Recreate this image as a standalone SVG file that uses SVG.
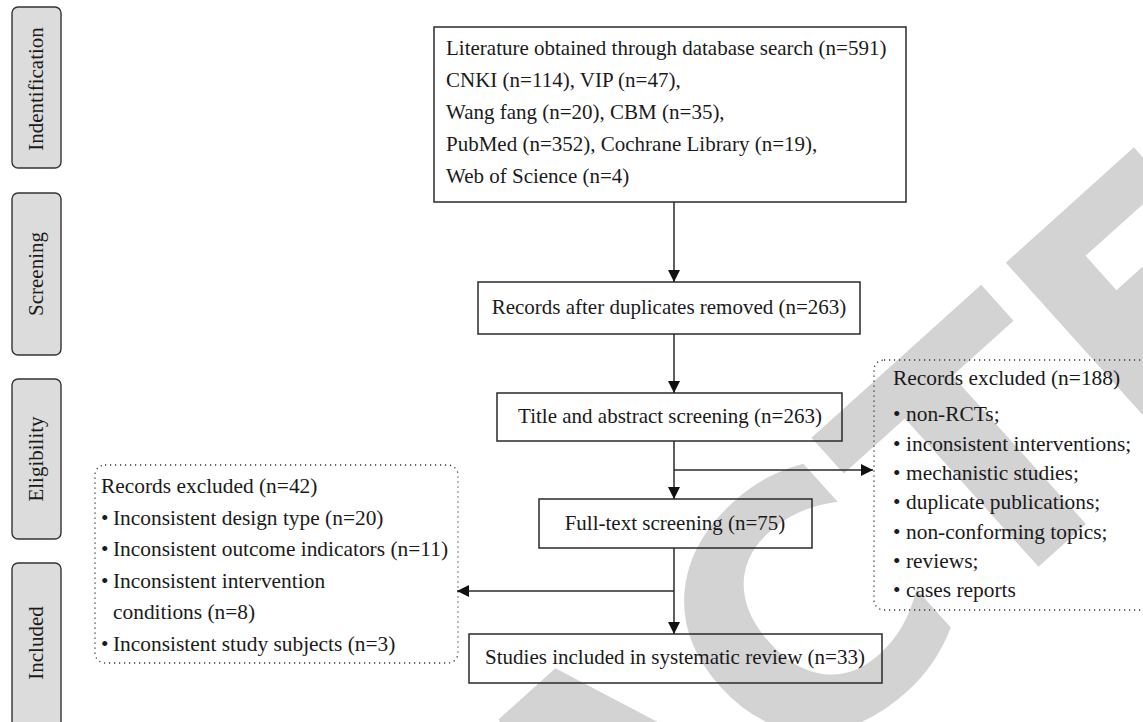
<svg xmlns="http://www.w3.org/2000/svg" width="1143" height="722" viewBox="0 0 1143 722">
  <style>
    .t { font-family: "Liberation Serif", "Times New Roman", serif; font-size: 21px; fill: #1a1a1a; }
    .l { font-size: 21.4px; }
    .stage rect { fill: #dcdcdc; stroke: #333; stroke-width: 1.4; }
    .box { fill: none; stroke: #2a2a2a; stroke-width: 1.5; }
    .dotbox { fill: none; stroke: #333; stroke-width: 1.3; stroke-dasharray: 1.2 3.8; }
    .conn { fill: none; stroke: #2a2a2a; stroke-width: 1.5; }
    .wm { font-family: "DejaVu Sans", sans-serif; font-weight: bold; font-size: 340px; fill: #d3d3d3; }
  </style>
  <defs>
    <marker id="arrow" markerUnits="userSpaceOnUse" markerWidth="12" markerHeight="12" refX="12" refY="6" orient="auto">
      <path d="M0,0 L12,6 L0,12 z" fill="#111"/>
    </marker>
  </defs>

  <rect width="1143" height="722" fill="#fff"/>

  <!-- diagonal watermark -->
  <text class="wm" transform="translate(-139,1627) rotate(-42)" x="0" y="0">RETRACTED</text>

  <!-- stage labels -->
  <g id="stage-identification" class="stage">
    <rect x="12" y="7" width="49" height="161" rx="6"/>
    <text class="t" transform="translate(43,89) rotate(-90)" text-anchor="middle">Indentification</text>
  </g>
  <g id="stage-screening" class="stage">
    <rect x="12" y="193" width="49" height="162" rx="6"/>
    <text class="t" transform="translate(43,274) rotate(-90)" text-anchor="middle">Screening</text>
  </g>
  <g id="stage-eligibility" class="stage">
    <rect x="12" y="379" width="49" height="160" rx="6"/>
    <text class="t" transform="translate(43,459) rotate(-90)" text-anchor="middle">Eligibility</text>
  </g>
  <g id="stage-included" class="stage">
    <rect x="12" y="563" width="49" height="175" rx="6"/>
    <text class="t" transform="translate(43,643) rotate(-90)" text-anchor="middle">Included</text>
  </g>

  <!-- flow boxes -->
  <g id="database-search">
    <rect class="box" x="434" y="27" width="472" height="175"/>
    <text class="t" x="446" y="55">Literature obtained through database search (n=591)</text>
    <text class="t" x="446" y="87">CNKI (n=114), VIP (n=47),</text>
    <text class="t" x="446" y="119">Wang fang (n=20), CBM (n=35),</text>
    <text class="t" x="446" y="151">PubMed (n=352), Cochrane Library (n=19),</text>
    <text class="t" x="446" y="183">Web of Science (n=4)</text>
  </g>
  <g id="duplicates-removed">
    <rect class="box" x="478" y="282" width="382" height="52"/>
    <text class="t" x="669" y="314" text-anchor="middle">Records after duplicates removed (n=263)</text>
  </g>
  <g id="title-abstract">
    <rect class="box" x="497" y="393" width="345" height="48"/>
    <text class="t" x="670" y="423" text-anchor="middle">Title and abstract screening (n=263)</text>
  </g>
  <g id="full-text">
    <rect class="box" x="539" y="499" width="273" height="49"/>
    <text class="t" x="675" y="530" text-anchor="middle">Full-text screening (n=75)</text>
  </g>
  <g id="included">
    <rect class="box" x="469" y="634" width="413" height="49"/>
    <text class="t" x="675" y="664" text-anchor="middle">Studies included in systematic review (n=33)</text>
  </g>

  <g id="excluded-188">
    <rect class="dotbox" x="874" y="360" width="280" height="250" rx="10"/>
    <text class="t l" x="893" y="385">Records excluded (n=188)</text>
    <text class="t l" y="421"><tspan x="893">•</tspan><tspan x="906">non-RCTs;</tspan></text>
    <text class="t l" y="450.5"><tspan x="893">•</tspan><tspan x="906">inconsistent interventions;</tspan></text>
    <text class="t l" y="480"><tspan x="893">•</tspan><tspan x="906">mechanistic studies;</tspan></text>
    <text class="t l" y="509"><tspan x="893">•</tspan><tspan x="906">duplicate publications;</tspan></text>
    <text class="t l" y="538.5"><tspan x="893">•</tspan><tspan x="906">non-conforming topics;</tspan></text>
    <text class="t l" y="567.5"><tspan x="893">•</tspan><tspan x="906">reviews;</tspan></text>
    <text class="t l" y="597"><tspan x="893">•</tspan><tspan x="906">cases reports</tspan></text>
  </g>

  <g id="excluded-42">
    <rect class="dotbox" x="95" y="465" width="363" height="198" rx="10"/>
    <text class="t l" x="101" y="493">Records excluded (n=42)</text>
    <text class="t l" y="525"><tspan x="101">•</tspan><tspan x="113">Inconsistent design type (n=20)</tspan></text>
    <text class="t l" y="556"><tspan x="101">•</tspan><tspan x="113">Inconsistent outcome indicators (n=11)</tspan></text>
    <text class="t l" y="588"><tspan x="101">•</tspan><tspan x="113">Inconsistent intervention</tspan></text>
    <text class="t l" x="113" y="619">conditions (n=8)</text>
    <text class="t l" y="651"><tspan x="101">•</tspan><tspan x="113">Inconsistent study subjects (n=3)</tspan></text>
  </g>

  <!-- connectors -->
  <g id="connectors" class="conn">
    <line x1="674" y1="202" x2="674" y2="282" marker-end="url(#arrow)"/>
    <line x1="674" y1="334" x2="674" y2="393" marker-end="url(#arrow)"/>
    <line x1="674" y1="441" x2="674" y2="499" marker-end="url(#arrow)"/>
    <line x1="674" y1="470" x2="873" y2="470" marker-end="url(#arrow)"/>
    <line x1="674" y1="548" x2="674" y2="634" marker-end="url(#arrow)"/>
    <line x1="674" y1="591" x2="457" y2="591" marker-end="url(#arrow)"/>
  </g>
</svg>
